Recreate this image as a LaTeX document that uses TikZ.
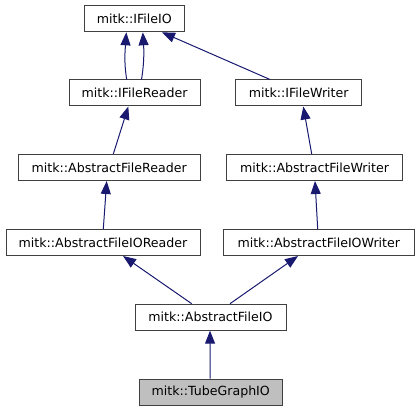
\documentclass[tikz,border=0pt]{standalone}
\usepackage{fontspec}
\setmainfont{DejaVu Sans}
\usetikzlibrary{arrows.meta}
\definecolor{edgeblue}{HTML}{191970}
\definecolor{boxborder}{HTML}{404040}
\definecolor{hlfill}{HTML}{BFBFBF}
\begin{document}
\begin{tikzpicture}[x=1pt,y=-1pt,
  cls/.style={draw=boxborder,line width=1pt,fill=white,minimum height=26pt,inner sep=0pt,
    font=\fontsize{12.6pt}{14pt}\selectfont,text=black},
  edge/.style={draw=edgeblue,line width=1pt,-{Triangle[length=13pt,width=10pt]}}]
\useasboundingbox (0,0) rectangle (419,411);
\node[cls,minimum width=100pt] (io) at (134.3,18.8) {mitk::IFileIO};
\node[cls,minimum width=131pt] (rdr) at (134.5,93) {mitk::IFileReader};
\node[cls,minimum width=126pt] (wr) at (298.7,93) {mitk::IFileWriter};
\node[cls,minimum width=181.7pt] (afr) at (109.2,167.5) {mitk::AbstractFileReader};
\node[cls,minimum width=175.7pt] (afw) at (314.5,167.5) {mitk::AbstractFileWriter};
\node[cls,minimum width=194pt] (ior) at (103,242.5) {mitk::AbstractFileIOReader};
\node[cls,minimum width=191pt] (iow) at (318.8,242.5) {mitk::AbstractFileIOWriter};
\node[cls,minimum width=151pt] (afio) at (210.5,317.2) {mitk::AbstractFileIO};
\node[cls,minimum width=143.3pt,fill=hlfill] (tg) at (210.7,392) {mitk::TubeGraphIO};
% edges
\draw[edge] ([xshift=-7.8pt]rdr.north) .. controls +(-3,-18) and +(-1,16) .. ([xshift=-8pt]io.south);
\draw[edge] ([xshift=7pt]rdr.north) .. controls +(3,-18) and +(1,16) .. ([xshift=8.5pt]io.south);
\draw[edge] ([xshift=-28.7pt]wr.north) -- ([xshift=27.7pt]io.south);
\draw[edge] ([xshift=4.1pt]afr.north) -- ([xshift=-6.2pt]rdr.south);
\draw[edge] ([xshift=-2.8pt]afw.north) -- ([xshift=4.6pt]wr.south);
\draw[edge] ([xshift=0.3pt]ior.north) -- ([xshift=-2.5pt]afr.south);
\draw[edge] ([xshift=-1.1pt]iow.north) -- ([xshift=0.5pt]afw.south);
\draw[edge] ([xshift=-18.8pt]afio.north) -- ([xshift=20pt]ior.south);
\draw[edge] ([xshift=19.5pt]afio.north) -- ([xshift=-20.8pt]iow.south);
\draw[edge] ([xshift=-0.5pt]tg.north) -- ([xshift=-0.5pt]afio.south);
\end{tikzpicture}
\end{document}
